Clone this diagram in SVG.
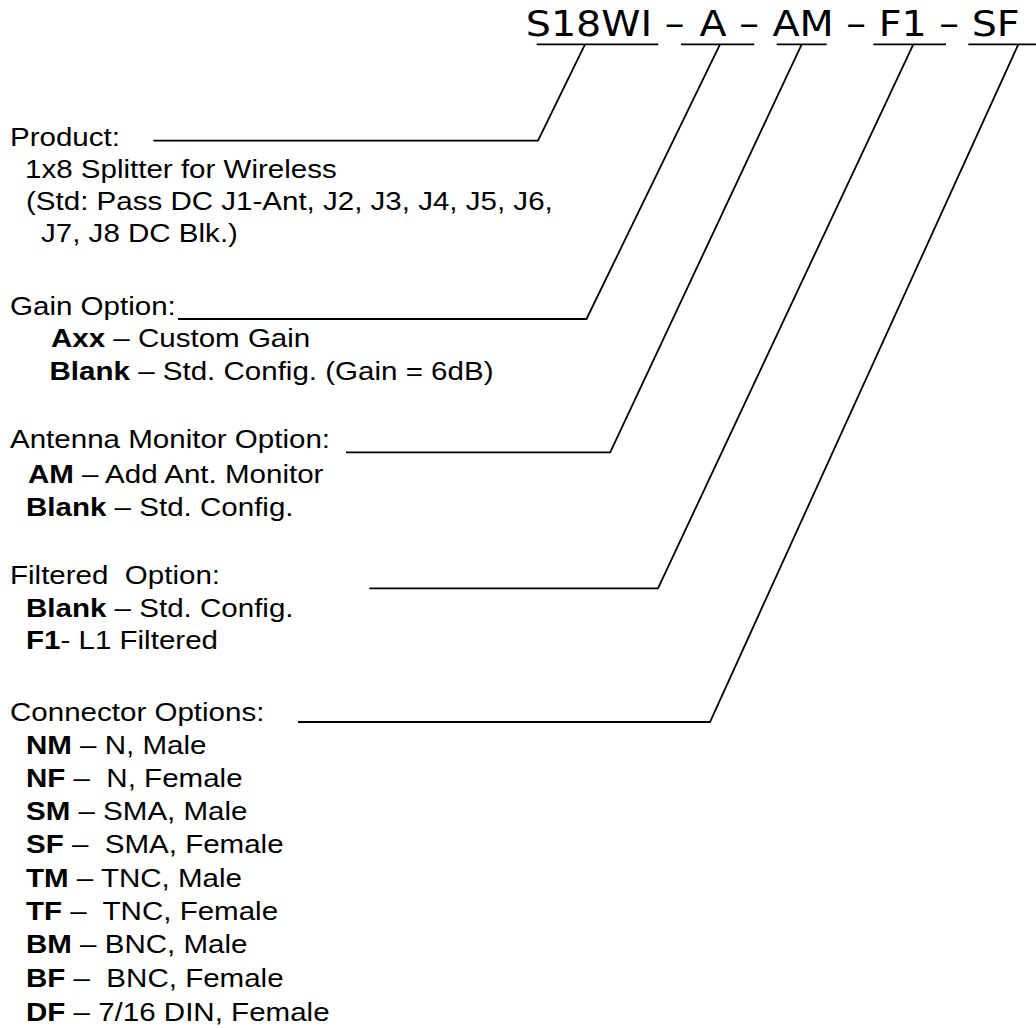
<svg xmlns="http://www.w3.org/2000/svg" width="1036" height="1028" viewBox="0 0 1036 1028">
<style>
.t { font-family: "Liberation Sans", Arial, sans-serif; font-size: 26.5px; fill: #000; white-space: pre; }
.b { font-weight: bold; }
.title { font-family: "DejaVu Sans", Verdana, sans-serif; font-size: 36px; fill: #000; white-space: pre; }
.ln { fill: none; stroke: #000; stroke-width: 1.8; stroke-linejoin: miter; }
</style>
<rect x="0" y="0" width="1036" height="1028" fill="#fff"/>

<g id="part-number" transform="scale(1.1 1)">
  <text class="title" x="478" y="36">S18WI – <tspan dx="2.3">A</tspan> – <tspan dx="0.8">AM</tspan> – F1 – SF</text>
</g>

<g id="connectors">
  <line class="ln" x1="536.7" y1="44.3" x2="658.3" y2="44.3"/>
  <line class="ln" x1="681" y1="44.3" x2="754.3" y2="44.3"/>
  <line class="ln" x1="776.7" y1="44.3" x2="826.7" y2="44.3"/>
  <line class="ln" x1="873.3" y1="44.3" x2="946" y2="44.3"/>
  <line class="ln" x1="968.3" y1="44.3" x2="1036" y2="44.3"/>
  <polyline class="ln" points="153.3,140.7 538,140.7 585,44.3"/>
  <polyline class="ln" points="178,319 586.5,319 720,44.3"/>
  <polyline class="ln" points="346,452.3 610.2,452.3 801.7,44.3"/>
  <polyline class="ln" points="369.3,588.3 658,588.3 913.3,44.3"/>
  <polyline class="ln" points="298,722 710,722 1018.3,44.3"/>
</g>

<g id="product" transform="scale(1.115 1)">
  <text class="t" x="8.97" y="146">Product:</text>
  <text class="t" x="22.4" y="178.3">1x8 Splitter for Wireless</text>
  <text class="t" x="23.3" y="210">(Std: Pass DC J1-Ant, J2, J3, J4, J5, J6,</text>
  <text class="t" x="36.8" y="241.7">J7, J8 DC Blk.)</text>
</g>

<g id="gain-option" transform="scale(1.115 1)">
  <text class="t" x="8.97" y="315">Gain Option:</text>
  <text class="t" x="45.7" y="347.5"><tspan class="b">Axx</tspan> – Custom Gain</text>
  <text class="t" x="44.4" y="380"><tspan class="b">Blank</tspan> – Std. Config. (Gain = 6dB)</text>
</g>

<g id="antenna-monitor-option" transform="scale(1.115 1)">
  <text class="t" x="8.97" y="448.5">Antenna Monitor Option:</text>
  <text class="t" x="25.1" y="482.7"><tspan class="b">AM</tspan> – Add Ant. Monitor</text>
  <text class="t" x="23.3" y="516.5"><tspan class="b">Blank</tspan> – Std. Config.</text>
</g>

<g id="filtered-option" transform="scale(1.115 1)">
  <text class="t" x="8.97" y="584">Filtered  Option:</text>
  <text class="t" x="23.3" y="616.7"><tspan class="b">Blank</tspan> – Std. Config.</text>
  <text class="t" x="23.3" y="649.5"><tspan class="b">F1</tspan>- L1 Filtered</text>
</g>

<g id="connector-options" transform="scale(1.115 1)">
  <text class="t" x="8.97" y="721.5">Connector Options:</text>
  <text class="t" x="23.3" y="754"><tspan class="b">NM</tspan> – N, Male</text>
  <text class="t" x="23.3" y="787"><tspan class="b">NF</tspan> –  N, Female</text>
  <text class="t" x="23.3" y="820.5"><tspan class="b">SM</tspan> – SMA, Male</text>
  <text class="t" x="23.3" y="853.5"><tspan class="b">SF</tspan> –  SMA, Female</text>
  <text class="t" x="23.3" y="887"><tspan class="b">TM</tspan> – TNC, Male</text>
  <text class="t" x="23.3" y="920.3"><tspan class="b">TF</tspan> –  TNC, Female</text>
  <text class="t" x="23.3" y="953.5"><tspan class="b">BM</tspan> – BNC, Male</text>
  <text class="t" x="23.3" y="987"><tspan class="b">BF</tspan> –  BNC, Female</text>
  <text class="t" x="23.3" y="1021"><tspan class="b">DF</tspan> – 7/16 DIN, Female</text>
</g>
</svg>
